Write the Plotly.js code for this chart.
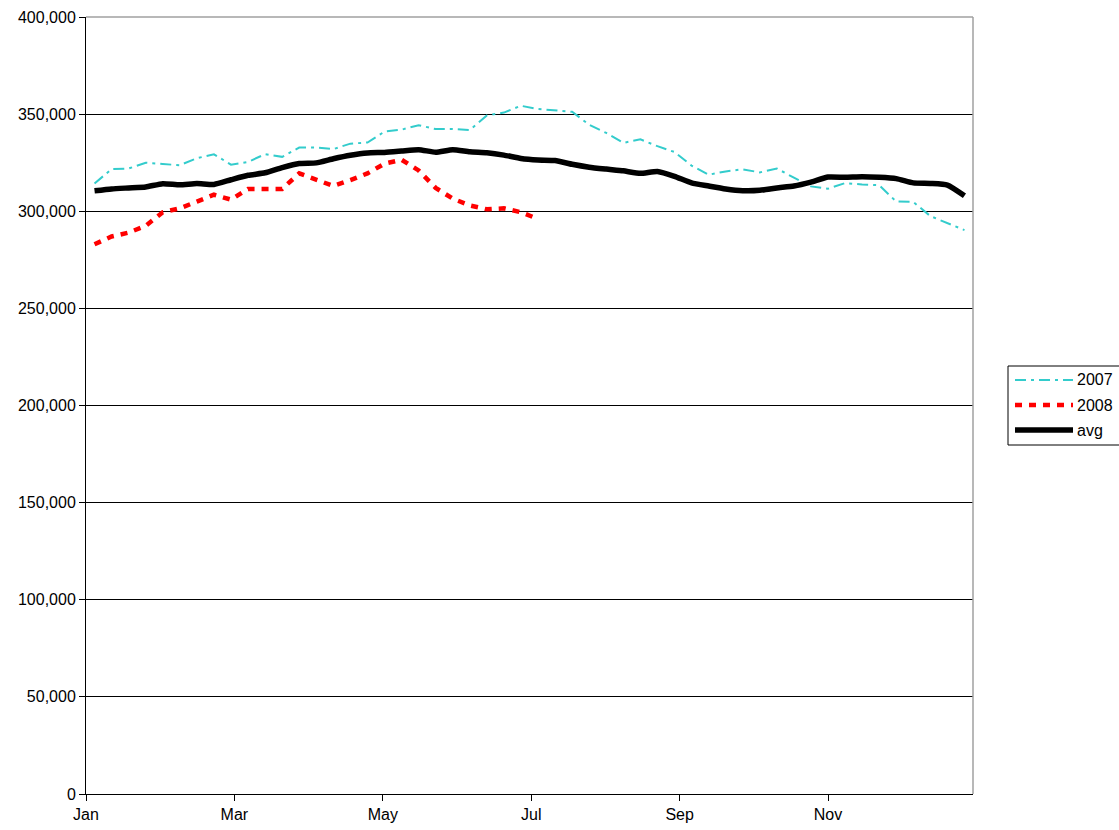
<!DOCTYPE html>
<html>
<head>
<meta charset="utf-8">
<script src="https://cdn.plot.ly/plotly-3.0.1.min.js"></script>
<style>
html,body{margin:0;padding:0;background:#fff;}
#chart{width:1119px;height:830px;}
</style>
</head>
<body>
<div id="chart"></div>
<script>
const weeks = [1,2,3,4,5,6,7,8,9,10,11,12,13,14,15,16,17,18,19,20,21,22,23,24,25,26,27,28,29,30,31,32,33,34,35,36,37,38,39,40,41,42,43,44,45,46,47,48,49,50,51,52];
const monthLabels = ["Jan","Mar","May","Jul","Sep","Nov"];
const monthIndex = [0,2,4,6,8,10];
const yTicks = [0,50000,100000,150000,200000,250000,300000,350000,400000];
const seriesNames = ["2007","2008","avg"];

const v2007 = [314300,321700,322000,325000,324300,323700,327300,329300,324000,325400,
  329400,328000,332800,332800,332000,334800,335400,341000,342000,344300,
  342300,342300,341800,349300,350800,354300,352600,352000,351200,344500,
  340300,335200,337000,333500,330500,323500,318800,320500,321600,320000,
  322000,317300,312800,311600,314500,313800,313400,305000,304800,297500,
  294000,290300];
const v2008 = [283000,287000,289000,292500,299500,301500,305000,308500,306000,311500,
  311500,311500,319500,316500,313000,316000,319500,324500,326500,321000,
  312000,306500,303000,301000,301500,299500,296000];
const vAvg = [310500,311500,312000,312500,314200,313600,314300,313800,316200,318500,
  319800,322500,324600,324900,327000,328800,330000,330300,331000,331700,
  330400,331700,330600,330100,328900,327200,326400,326100,324200,322700,
  321700,320800,319500,320500,318000,314600,313000,311500,310600,310800,
  312000,313000,315000,317600,317500,317800,317500,316800,314600,314300,
  313500,308000];

const styles = [
  {color: "#33CCCC", width: 2, dash: "11px,5px,3px,5px"},
  {color: "#FF0000", width: 4.5, dash: "7px,7px"},
  {color: "#000000", width: 5.5, dash: "solid"}
];

const weeksPerMonth = 4.35;
const tickPos = monthIndex.map(m => 0.5 + m * weeksPerMonth);

const traces = [
  {x: weeks.slice(0, v2007.length), y: v2007, name: seriesNames[0], type: "scatter", mode: "lines",
   line: styles[0]},
  {x: weeks.slice(0, v2008.length), y: v2008, name: seriesNames[1], type: "scatter", mode: "lines",
   line: styles[1]},
  {x: weeks.slice(0, vAvg.length), y: vAvg, name: seriesNames[2], type: "scatter", mode: "lines",
   line: Object.assign({}, styles[2], {shape: "spline", smoothing: 0.5})}
];

// plot area in pixels (for the hand-drawn legend)
const PL = 86, PR = 973, PT = 17, PB = 794;
const px = v => (v - PL) / (PR - PL);
const py = v => (PB - v) / (PB - PT);

const shapes = [
  {type: "line", xref: "paper", yref: "paper", x0: 0, x1: 1, y0: 1, y1: 1,
   line: {color: "#a0a0a0", width: 1.5}, layer: "above"},
  {type: "line", xref: "paper", yref: "paper", x0: 1, x1: 1, y0: 0, y1: 1,
   line: {color: "#a0a0a0", width: 1.5}, layer: "above"},
  {type: "rect", xref: "paper", yref: "paper", x0: px(1008), x1: px(1130), y0: py(445), y1: py(366),
   line: {color: "#000", width: 1}, fillcolor: "#fff", layer: "above"}
];
const annotations = [];
const rowY = [380, 405, 430];
seriesNames.forEach((n, i) => {
  shapes.push({type: "line", xref: "paper", yref: "paper", x0: px(1015), x1: px(1073),
    y0: py(rowY[i]), y1: py(rowY[i]), line: styles[i], layer: "above"});
  annotations.push({xref: "paper", yref: "paper", x: px(1075), y: py(rowY[i]), xanchor: "left",
    yanchor: "middle", text: n, showarrow: false, font: {size: 16, color: "#000"}});
});

const layout = {
  width: 1119, height: 830,
  margin: {l: 86, r: 146, t: 17, b: 36, pad: 0},
  paper_bgcolor: "#ffffff", plot_bgcolor: "#ffffff",
  font: {family: "Liberation Sans, Arial, sans-serif", size: 16, color: "#000"},
  showlegend: false,
  xaxis: {range: [0.5, weeks.length + 0.5], tickmode: "array", tickvals: tickPos, ticktext: monthLabels,
    showgrid: false, zeroline: false, showline: true, linecolor: "#000", linewidth: 1,
    ticks: "outside", ticklen: 6, tickcolor: "#000", tickwidth: 1,
    tickfont: {size: 16, color: "#000"}, fixedrange: true},
  yaxis: {range: [0, 400000], tickmode: "array", tickvals: yTicks, tickformat: ",.0f",
    showgrid: true, gridcolor: "#000", gridwidth: 1, zeroline: false,
    showline: true, linecolor: "#000", linewidth: 1,
    ticks: "outside", ticklen: 6, tickcolor: "#000", tickwidth: 1,
    tickfont: {size: 16, color: "#000"}, fixedrange: true},
  shapes: shapes,
  annotations: annotations
};

Plotly.newPlot("chart", traces, layout, {displayModeBar: false, staticPlot: true});
</script>
</body>
</html>
